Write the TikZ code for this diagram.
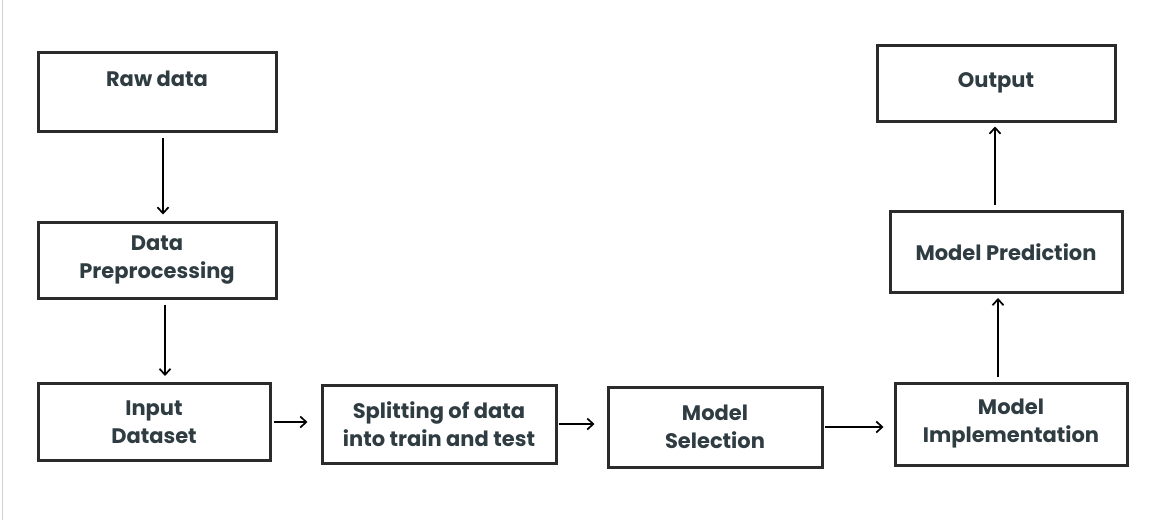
\documentclass[tikz,border=0pt]{standalone}
\usepackage{fontspec}
\setmainfont{Poppins}
\usetikzlibrary{positioning, arrows.meta}
\definecolor{trazo}{HTML}{2B2B2B}
\definecolor{tinta}{HTML}{2F3D43}
\definecolor{borde}{HTML}{CED2D6}

\begin{document}
\begin{tikzpicture}[x=1pt, y=-1pt, font=\fontsize{21}{28}\selectfont\bfseries,
    caja/.style={draw=trazo, line width=3pt, text=tinta, align=center, inner sep=2pt},
    alta/.style={text depth=26pt}, llana/.style={},
    flecha/.style={-{Straight Barb[length=6pt, width=11pt]}, line width=1.7pt,
                   shorten <=5pt, shorten >=6pt}]
  \useasboundingbox (0,0) rectangle (1165,520);
  \draw[borde, line width=1.5pt] (2.5,0) -- (2.5,520);
  % cajas del flujo
  \foreach \x/\y/\w/\h/\n/\o/\t in {157/92/238/79/raw/alta/{Raw data},
                                     157/260/238/76/prep/llana/{Data\\Preprocessing},
                                     154/422/232/77/input/llana/{Input\\Dataset},
                                     439/424/234/78/split/llana/{Splitting of data\\into train and test},
                                     715/427/214/80/sel/llana/{Model\\Selection},
                                     1011/424/232/82/impl/llana/{Model\\Implementation},
                                     1006/252/232/81/pred/llana/{Model Prediction},
                                     996/83/238/76/out/llana/{Output}} {
    \node[caja, \o, minimum width=\w pt, minimum height=\h pt] (\n) at (\x,\y) {\t};
  }
  % flechas
  \draw[flecha] ([xshift=6pt]raw.south) -- ([xshift=6pt]raw.south |- prep.north);
  \draw[flecha] ([xshift=8pt]prep.south) -- ([xshift=8pt]prep.south |- input.north);
  \draw[flecha, shorten <=2pt, shorten >=13pt] (input.east) -- (input.east -| split.west);
  \draw[flecha, shorten <=1pt, shorten >=12pt] (split.east) -- (split.east -| sel.west);
  \draw[flecha, shorten <=1pt, shorten >=10pt] (sel.east) -- (sel.east -| impl.west);
  \draw[flecha, shorten >=4pt] ([xshift=-13pt]impl.north) -- ([xshift=-13pt]impl.north |- pred.south);
  \draw[flecha, shorten >=4pt] ([xshift=-11pt]pred.north) -- ([xshift=-11pt]pred.north |- out.south);
\end{tikzpicture}
\end{document}
